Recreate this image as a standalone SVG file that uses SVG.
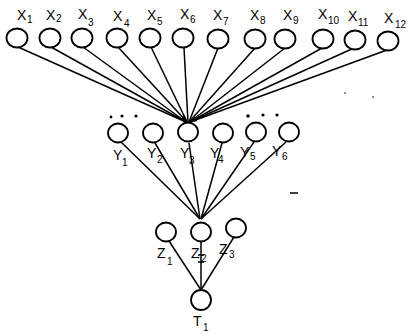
<svg xmlns="http://www.w3.org/2000/svg" width="411" height="336" viewBox="0 0 411 336">
<style>
.n{fill:#fff;stroke:#000;stroke-width:1.8}
.c line{stroke:#000;stroke-width:1.5}
text{font-family:"Liberation Sans",Arial,sans-serif;font-size:14px;fill:#000}
.s{font-size:10px}
</style>
<defs>
<marker id="ah" viewBox="0 0 10 10" refX="9" refY="5" markerWidth="5" markerHeight="5" orient="auto"><path d="M0,1 L10,5 L0,9 z" fill="#000"/></marker>
</defs>
<rect width="411" height="336" fill="#fff"/>
<g class="c">
<line x1="18" y1="47" x2="186" y2="122"/>
<line x1="51" y1="47" x2="186" y2="122"/>
<line x1="83" y1="47" x2="186" y2="122"/>
<line x1="118" y1="47" x2="187" y2="122" marker-end="url(#ah)"/>
<line x1="151" y1="47" x2="187" y2="122"/>
<line x1="184" y1="48" x2="188" y2="122"/>
<line x1="218" y1="48" x2="189" y2="122"/>
<line x1="255" y1="48" x2="189" y2="122"/>
<line x1="285" y1="48" x2="190" y2="122"/>
<line x1="322" y1="48" x2="190" y2="122" marker-end="url(#ah)"/>
<line x1="354" y1="48" x2="190" y2="122"/>
<line x1="387" y1="50" x2="190" y2="122"/>
<line x1="121" y1="142" x2="200" y2="219"/>
<line x1="155" y1="143" x2="200" y2="219"/>
<line x1="189" y1="143" x2="200" y2="219"/>
<line x1="222" y1="143" x2="201" y2="219"/>
<line x1="254" y1="142" x2="201" y2="219"/>
<line x1="286" y1="142" x2="201" y2="219"/>
<line x1="169" y1="241" x2="201" y2="290"/>
<line x1="201" y1="242" x2="201" y2="290"/>
<line x1="234" y1="237" x2="201" y2="290"/>
<line x1="198" y1="262" x2="204" y2="262"/>
<line x1="198" y1="255" x2="204" y2="255"/>
</g>
<g id="X1"><ellipse class="n" cx="17" cy="38" rx="10.5" ry="9.5"/><text x="17" y="20">X</text><text class="s" x="27" y="23">1</text></g>
<g id="X2"><ellipse class="n" cx="50" cy="38" rx="10.5" ry="9.5"/><text x="46" y="20">X</text><text class="s" x="56" y="22">2</text></g>
<g id="X3"><ellipse class="n" cx="82" cy="38" rx="10.5" ry="9.5"/><text x="78" y="19">X</text><text class="s" x="88" y="26">3</text></g>
<g id="X4"><ellipse class="n" cx="117" cy="38" rx="10.5" ry="9.5"/><text x="113" y="21">X</text><text class="s" x="124" y="27">4</text></g>
<g id="X5"><ellipse class="n" cx="150" cy="38" rx="10.5" ry="9.5"/><text x="147" y="20">X</text><text class="s" x="157" y="25">5</text></g>
<g id="X6"><ellipse class="n" cx="183" cy="38" rx="10.5" ry="9.5"/><text x="180" y="19">X</text><text class="s" x="190" y="23">6</text></g>
<g id="X7"><ellipse class="n" cx="218" cy="39" rx="10.5" ry="9.5"/><text x="213" y="20">X</text><text class="s" x="223" y="25">7</text></g>
<g id="X8"><ellipse class="n" cx="255" cy="39" rx="10.5" ry="9.5"/><text x="250" y="20">X</text><text class="s" x="260" y="24">8</text></g>
<g id="X9"><ellipse class="n" cx="285" cy="39" rx="10.5" ry="9.5"/><text x="283" y="20">X</text><text class="s" x="293" y="24">9</text></g>
<g id="X10"><ellipse class="n" cx="323" cy="39" rx="10.5" ry="9.5"/><text x="318" y="19">X</text><text class="s" x="328" y="24">10</text></g>
<g id="X11"><ellipse class="n" cx="355" cy="40" rx="10.5" ry="9.5"/><text x="348" y="21">X</text><text class="s" x="358" y="26">11</text></g>
<g id="X12"><ellipse class="n" cx="388" cy="41" rx="10.5" ry="9.5"/><text x="384" y="23">X</text><text class="s" x="395" y="28">12</text></g>
<g id="Y1"><ellipse class="n" cx="118" cy="133" rx="10" ry="9.5"/><text x="113" y="160">Y</text><text class="s" x="122" y="166">1</text></g>
<g id="Y2"><ellipse class="n" cx="153" cy="133" rx="10" ry="9.5"/><text x="147" y="158">Y</text><text class="s" x="157" y="163">2</text></g>
<g id="Y3"><ellipse class="n" cx="188" cy="132" rx="10" ry="9.5"/><text x="180" y="158">Y</text><text class="s" x="189" y="164">3</text></g>
<g id="Y4"><ellipse class="n" cx="223" cy="133" rx="10" ry="9.5"/><text x="210" y="158">Y</text><text class="s" x="218" y="163">4</text></g>
<g id="Y5"><ellipse class="n" cx="256" cy="132" rx="10" ry="9.5"/><text x="240" y="157">Y</text><text class="s" x="250" y="160">5</text></g>
<g id="Y6"><ellipse class="n" cx="289" cy="132" rx="10" ry="9.5"/><text x="272" y="156">Y</text><text class="s" x="282" y="160">6</text></g>
<g id="dots">
<circle cx="111" cy="117" r="1.4"/><circle cx="122" cy="116" r="1.6"/><circle cx="136" cy="116" r="1.6"/>
<circle cx="248" cy="116" r="1.8"/><circle cx="263" cy="115" r="1.6"/><circle cx="277" cy="115" r="1.6"/>
<circle cx="345" cy="93" r="0.8"/><circle cx="373" cy="97" r="0.8"/>
<line x1="290" y1="193" x2="298" y2="193" stroke="#000" stroke-width="1.5"/>
</g>
<g id="Z1"><ellipse class="n" cx="166" cy="232" rx="10" ry="9.5"/><text x="157" y="258">Z</text><text class="s" x="167" y="265">1</text></g>
<g id="Z2"><ellipse class="n" cx="201" cy="232" rx="10" ry="9.5"/><text x="191" y="258">Z</text><text class="s" x="201" y="262">2</text></g>
<g id="Z3"><ellipse class="n" cx="236" cy="228" rx="10" ry="9.5"/><text x="219" y="254">Z</text><text class="s" x="229" y="258">3</text></g>
<g id="T1"><ellipse class="n" cx="201" cy="300" rx="10" ry="10"/><text x="193" y="326">T</text><text class="s" x="203" y="331">1</text></g>
</svg>
